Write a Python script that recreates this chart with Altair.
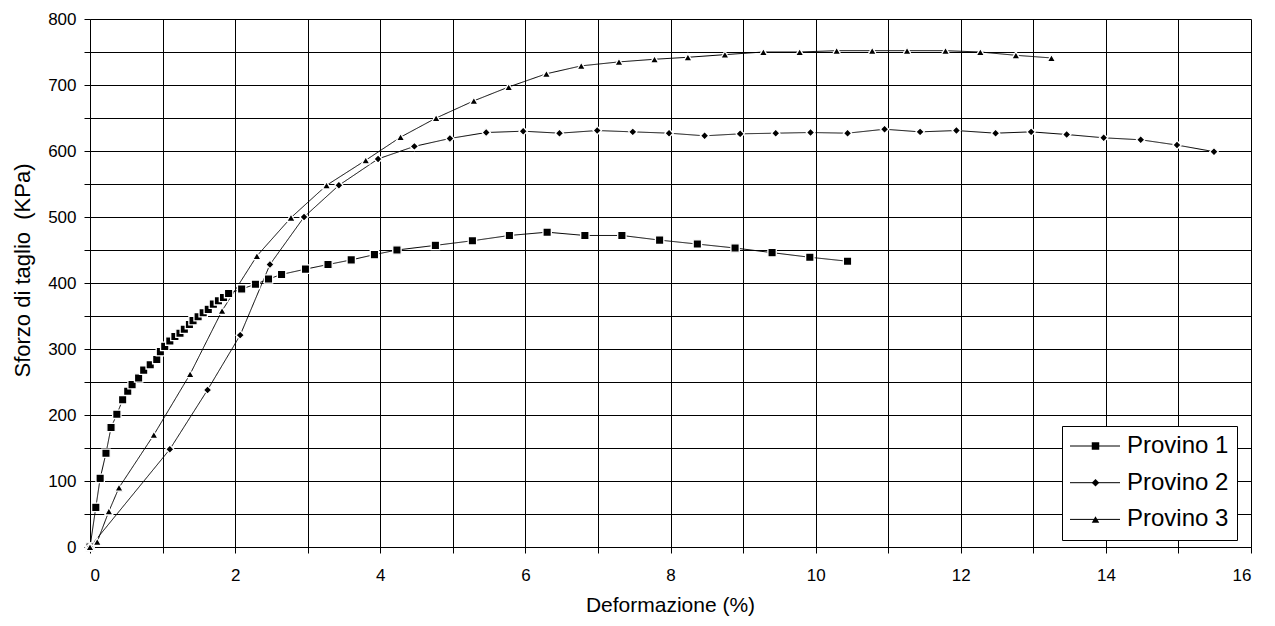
import altair as alt
import pandas as pd

# ---- data ----
series_names = ["Provino 1", "Provino 2", "Provino 3"]
series_ids = ["1", "2", "3"]
marker_shapes = ["square", "diamond", "triangle-up"]

x1 = [0, 0.08, 0.14, 0.22, 0.29, 0.37, 0.45, 0.52, 0.58, 0.67,
      0.74, 0.83, 0.92, 0.97, 1.03, 1.10, 1.17, 1.24, 1.30, 1.37,
      1.42, 1.49, 1.56, 1.63, 1.70, 1.77, 1.84, 1.91, 2.09, 2.28,
      2.46, 2.64, 2.97, 3.28, 3.60, 3.92, 4.23, 4.76, 5.27, 5.78,
      6.30, 6.82, 7.33, 7.85, 8.37, 8.89, 9.40, 9.92, 10.44]
y1 = [0, 60, 104, 142, 181, 201, 223, 236, 246, 256,
      268, 276, 284, 296, 304, 312, 319, 324, 330, 337,
      343, 349, 355, 360, 368, 373, 378, 384, 391, 398,
      406, 413, 421, 428, 435, 443, 450, 457, 464, 472,
      477, 472, 472, 465, 459, 453, 446, 439, 433]

x2 = [0, 1.10, 1.62, 2.07, 2.48, 2.95, 3.43, 3.97, 4.47, 4.96, 5.46,
      5.97, 6.47, 6.99, 7.48, 7.98, 8.47, 8.96, 9.45, 9.93, 10.44,
      10.95, 11.44, 11.94, 12.48, 12.97, 13.46, 13.97, 14.48, 14.98, 15.49]
y2 = [0, 148, 238, 321, 428, 500, 548, 588, 607, 619, 628,
      630, 627, 631, 629, 627, 623, 626, 627, 628, 627,
      633, 629, 631, 627, 629, 625, 620, 617, 609, 599]

x3 = [0, 0.10, 0.26, 0.40, 0.88, 1.38, 1.82, 2.30, 2.77, 3.26,
      3.80, 4.28, 4.77, 5.29, 5.77, 6.29, 6.77, 7.29, 7.78, 8.24,
      8.75, 9.28, 9.78, 10.29, 10.78, 11.26, 11.79, 12.27, 12.76, 13.25]
y3 = [0, 8, 54, 90, 170, 262, 358, 441, 499, 548,
      586, 621, 650, 676, 697, 717, 729, 735, 739, 742,
      746, 750, 750, 752, 752, 752, 752, 750, 745, 741]

x_ticks = list(range(0, 17))
y_ticks = list(range(0, 801, 50))

rows = []
for name, sid, xs, ys in zip(series_names, series_ids, [x1, x2, x3], [y1, y2, y3]):
    for i, (a, b) in enumerate(zip(xs, ys)):
        rows.append({"serie": name, "sid": sid, "def": a, "sforzo": b, "ord": i})
df = pd.DataFrame(rows)

FONT = "Liberation Sans, Arial, sans-serif"

x_enc = alt.X("def:Q",
              scale=alt.Scale(domain=[0, 16], nice=False, zero=False),
              axis=alt.Axis(values=x_ticks,
                            labelExpr="datum.value % 2 === 0 ? datum.label : ''",
                            title="Deformazione (%)",
                            titleX=580, titleY=58, titleBaseline="middle",
                            labelPadding=14))
y_enc = alt.Y("sforzo:Q",
              scale=alt.Scale(domain=[0, 800], nice=False),
              axis=alt.Axis(values=y_ticks,
                            labelExpr="datum.value % 100 === 0 ? datum.label : ''",
                            title="Sforzo di taglio\u00a0 (KPa)",
                            titleX=-68, titleY=251, titleBaseline="middle",
                            titleAlign="center", titleAngle=-90,
                            titleFontSize=22,
                            labelPadding=8))

base = alt.Chart(df)

# lines; their legend gives the framed box, the labels and the line segments
lines = base.mark_line(color="black", strokeWidth=1).encode(
    x=x_enc, y=y_enc, order="ord:Q",
    strokeDash=alt.StrokeDash(
        "sid:N",
        scale=alt.Scale(domain=series_ids, range=[[1, 0], [1, 0], [1, 0]]),
        legend=alt.Legend(
            title=None, orient="none", legendX=972, legendY=407, zindex=1,
            fillColor="white", strokeColor="black", padding=8,
            labelExpr="'Provino ' + datum.label",
            labelFontSize=24, labelFont=FONT, labelColor="black",
            labelOffset=33, rowPadding=12.7,
            symbolType="M-2.4,0H7.6", symbolSize=100,
            symbolStrokeColor="black", symbolStrokeWidth=1, symbolOpacity=1)),
)

# markers; their legend (no frame, no labels) sits on top of the line segments
points = base.mark_point(
    filled=True, fill="black", stroke="white", strokeWidth=1.3, size=70, opacity=1
).encode(
    x=x_enc, y=y_enc,
    shape=alt.Shape(
        "serie:N",
        scale=alt.Scale(domain=series_names, range=marker_shapes),
        legend=alt.Legend(
            title=None, orient="none", legendX=985.5, legendY=407, zindex=2,
            padding=8, labelFontSize=24, labelFont=FONT, labelExpr="''",
            labelOffset=0, rowPadding=12.7,
            symbolSize=56, symbolFillColor="black", symbolStrokeColor="white",
            symbolStrokeWidth=2.6, symbolOpacity=1)),
)

chart = alt.layer(lines, points).properties(
    width=1161, height=528,
    autosize=alt.AutoSizeParams(type="none"),
    padding={"left": 82, "top": 11, "right": 10, "bottom": 80},
    background="white",
).configure_view(strokeWidth=0).configure_axis(
    grid=True, gridColor="black", gridOpacity=1, gridWidth=1,
    domainColor="black", domainWidth=1, tickColor="black", tickSize=6,
    labelFont=FONT, labelFontSize=17, labelColor="black",
    titleFont=FONT, titleFontSize=21, titleFontWeight="normal", titleColor="black",
)

chart.save("out.html", embed_options={"renderer": "svg", "actions": False})
